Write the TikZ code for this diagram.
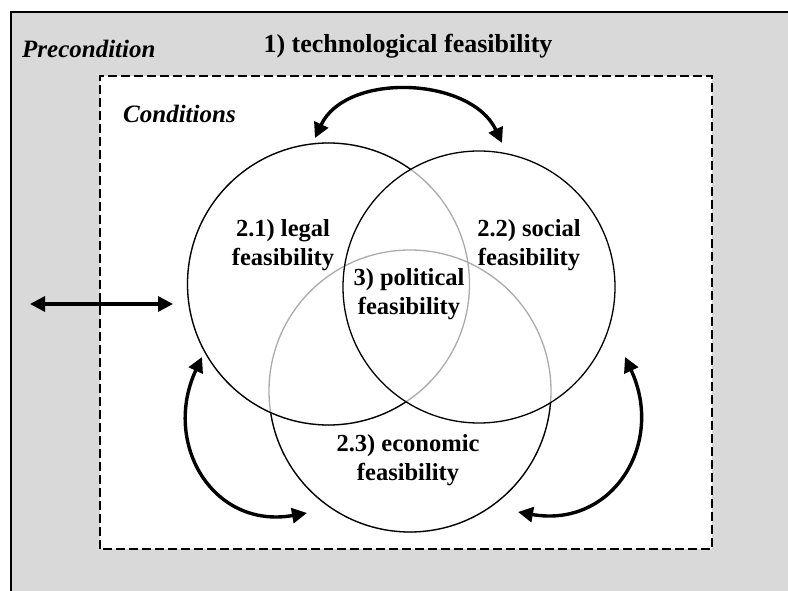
\documentclass[tikz,border=0pt]{standalone}
\usepackage{fontspec}
\setmainfont{Liberation Serif}
\usetikzlibrary{arrows.meta}
\definecolor{bggray}{HTML}{D9D9D9}
\definecolor{lightline}{HTML}{ABABAB}
\begin{document}
\begin{tikzpicture}[x=1pt,y=1pt,
  lbl/.style={font=\fontsize{24.5}{28.5}\selectfont\bfseries, inner sep=0pt, align=center},
  ilbl/.style={font=\fontsize{25}{29}\selectfont\bfseries\itshape, inner sep=0pt},
  titlelbl/.style={font=\fontsize{26}{30}\selectfont\bfseries, inner sep=0pt},
  circblack/.style={draw=black, line width=1.3pt},
  circgray/.style={draw=lightline, line width=1.3pt},
  dblarrow/.style={line width=3.4pt, {Triangle[length=15pt,width=15pt]}-{Triangle[length=15pt,width=15pt]}}
]
\useasboundingbox (0,0) rectangle (788,590);
% precondition frame
\fill[bggray] (11,-5) rectangle (795,578);
\draw[line width=1.2pt] (11,-5) -- (11,578) -- (795,578);
% conditions frame
\draw[fill=white, line width=1.2pt, dash pattern=on 9pt off 4pt] (100,41) rectangle (712,514);

\coordinate (cl) at (328.5,306);
\coordinate (cs) at (479,303);
\coordinate (ce) at (410,199);
\def\rl{141}
\def\rs{136}
\def\re{141}

% economic circle: gray inside others, black outside
\draw[circgray] (ce) circle[radius=\re];
\begin{scope}[even odd rule]
  \clip (-10,-10) rectangle (800,600) (cl) circle[radius=\rl];
  \clip (-10,-10) rectangle (800,600) (cs) circle[radius=\rs];
  \draw[circblack] (ce) circle[radius=\re];
\end{scope}
% legal circle: gray inside social
\draw[circgray] (cl) circle[radius=\rl];
\begin{scope}[even odd rule]
  \clip (-10,-10) rectangle (800,600) (cs) circle[radius=\rs];
  \draw[circblack] (cl) circle[radius=\rl];
\end{scope}
% social circle
\draw[circblack] (cs) circle[radius=\rs];

% labels
\node[ilbl, anchor=base west] (pre) at (22,532) {Precondition};
\node[titlelbl, anchor=base] (tech) at (408,537) {1) technological feasibility};
\node[ilbl, anchor=base west] (cond) at (123,467) {Conditions};
\node[lbl] (legal) at (283,345) {2.1) legal\\feasibility};
\node[lbl] (social) at (529,345) {2.2) social\\feasibility};
\node[lbl] (pol) at (409,296) {3) political\\feasibility};
\node[lbl] (econ) at (408,130) {2.3) economic\\feasibility};

% arrows
\coordinate (ta) at (315,452);
\coordinate (tb) at (502,447);
\coordinate (la) at (202,233);
\coordinate (lb) at (307,77);
\coordinate (ra) at (625,233);
\coordinate (rb) at (518,78);
\coordinate (sa) at (30,286);
\coordinate (sb) at (173,286);
\draw[dblarrow] (ta) to[out=65,in=115] (tb);
\draw[dblarrow] (la) to[out=245,in=190,looseness=1.3] (lb);
\draw[dblarrow] (ra) to[out=295,in=350,looseness=1.3] (rb);
\draw[dblarrow] (sa) -- (sb);
\end{tikzpicture}
\end{document}
